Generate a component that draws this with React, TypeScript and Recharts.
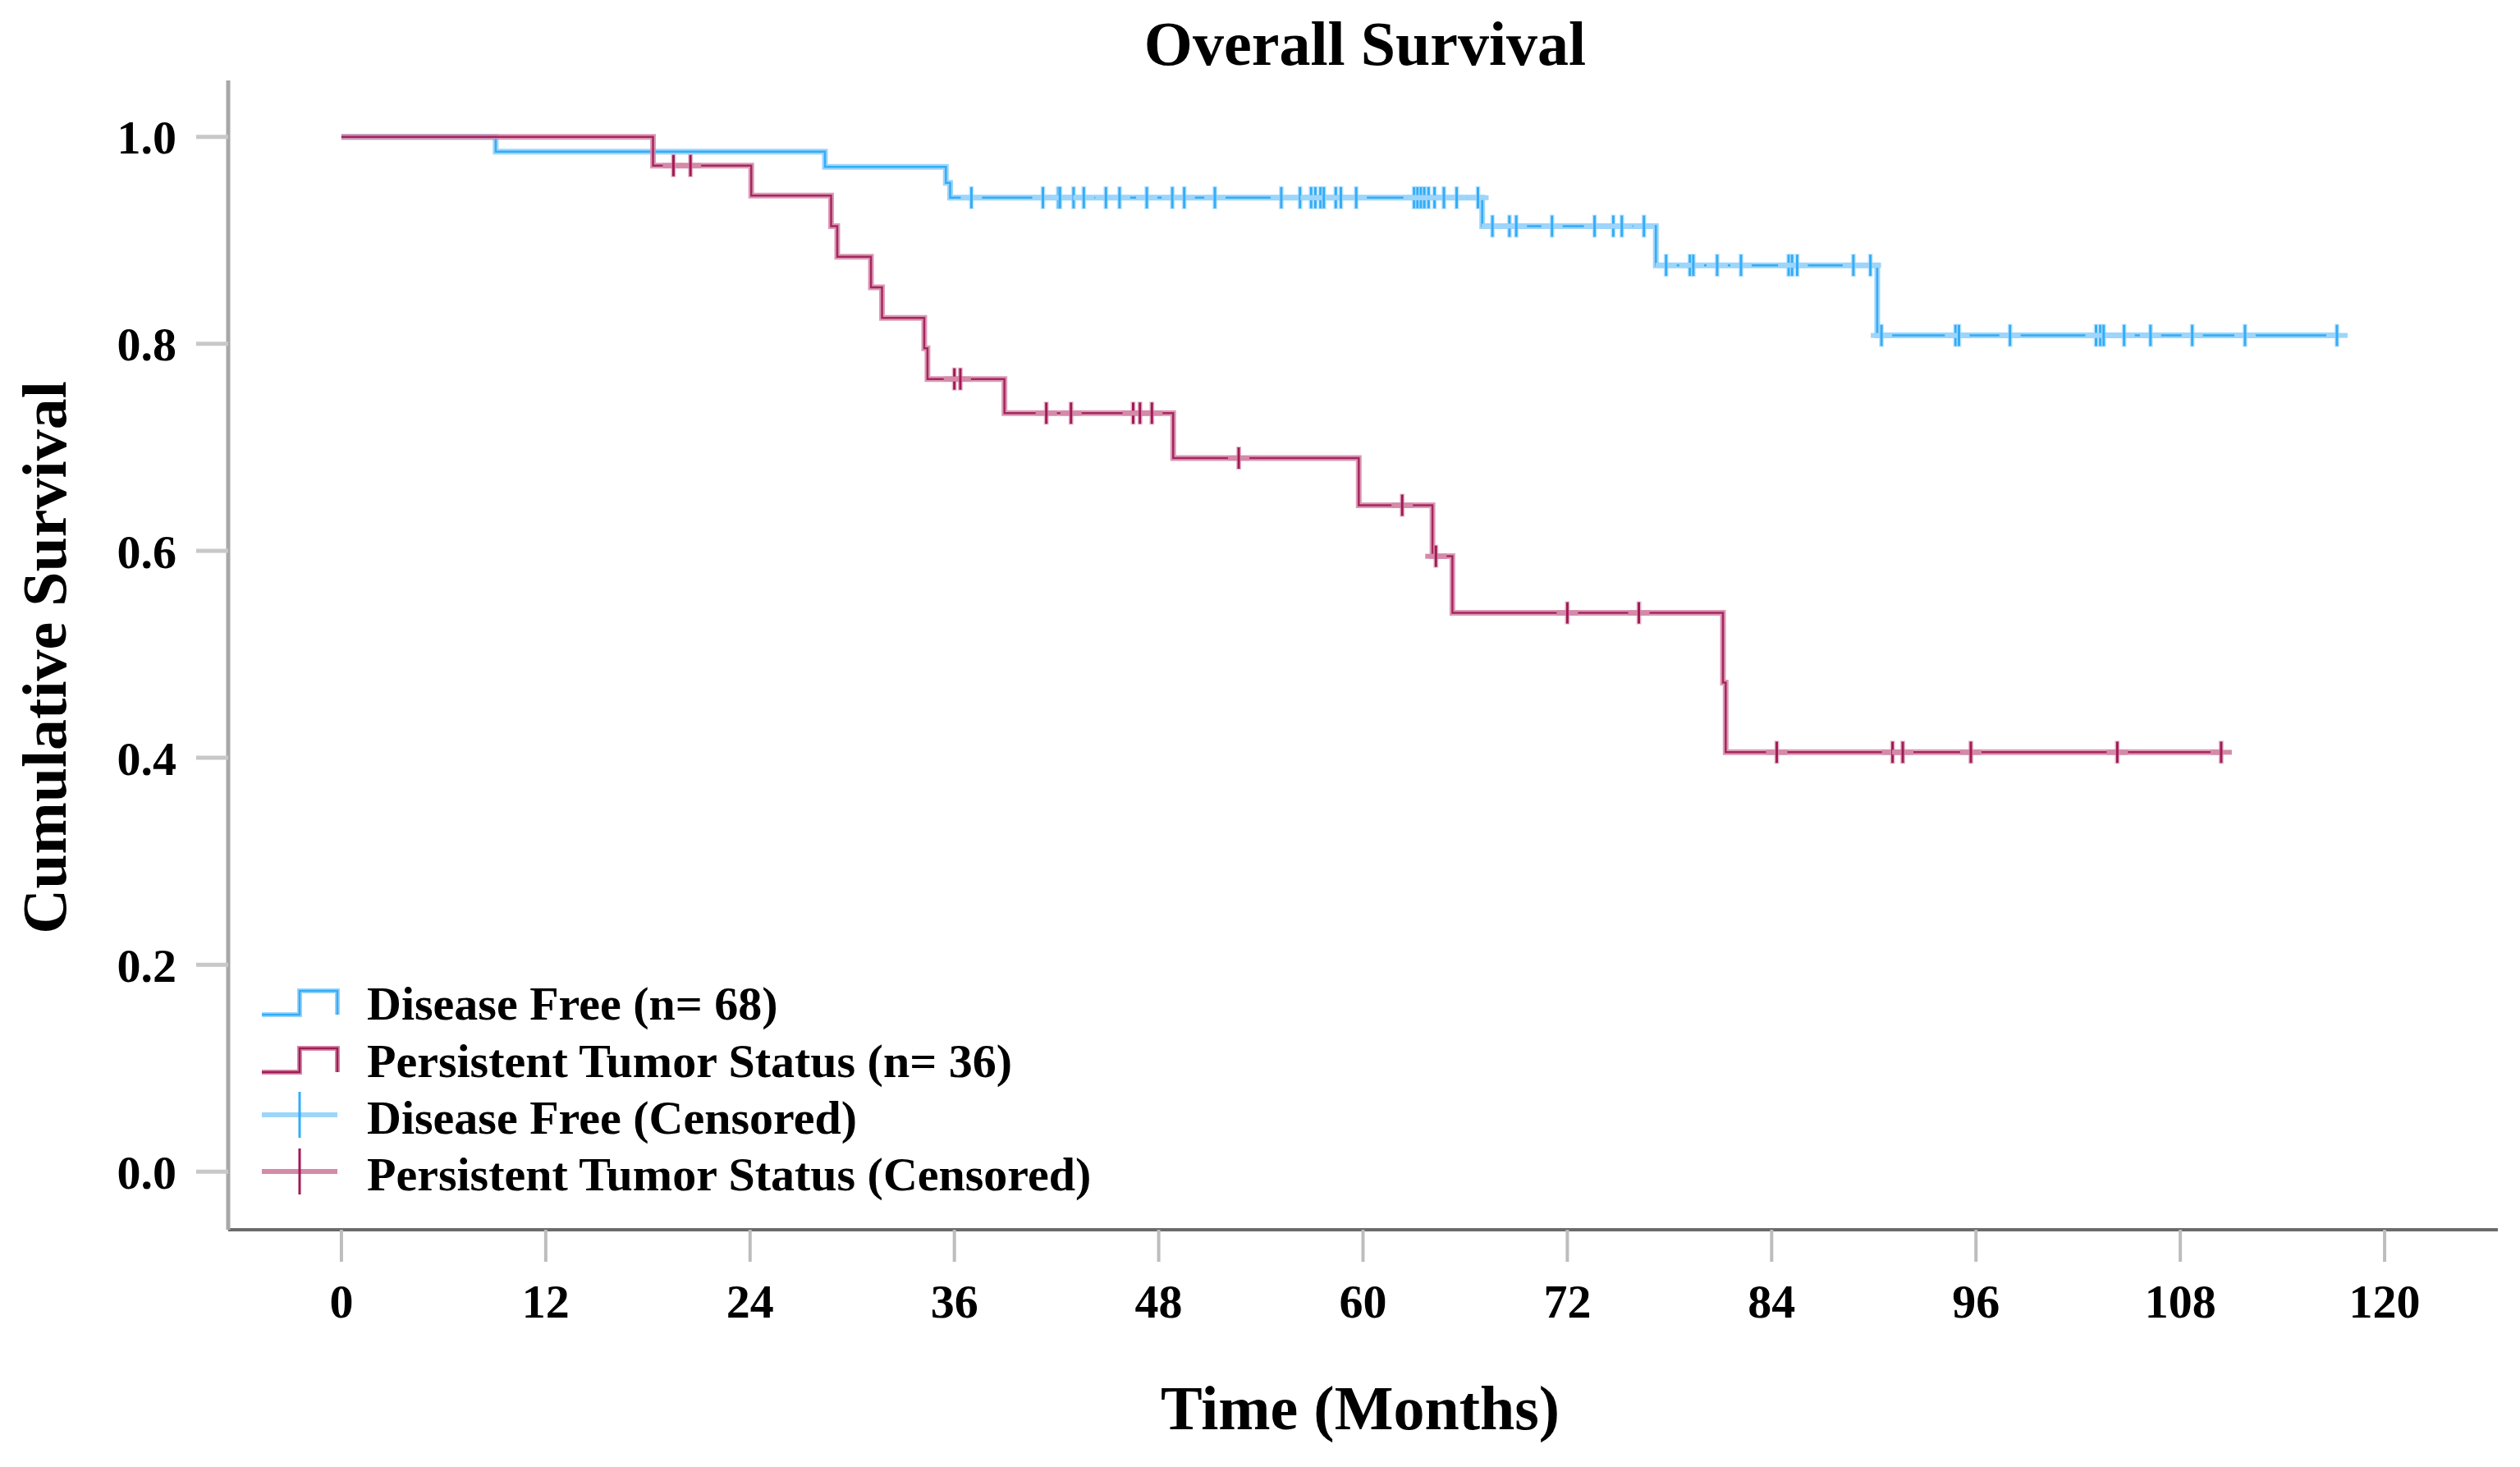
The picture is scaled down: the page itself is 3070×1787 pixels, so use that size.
import React from "react";
import { ComposedChart, Line, Scatter, XAxis, YAxis } from "recharts";

const FONT = '"Liberation Serif", "Times New Roman", serif';

const monthTicks = [0, 12, 24, 36, 48, 60, 72, 84, 96, 108, 120];
const survTicks = [0, 0.2, 0.4, 0.6, 0.8, 1.0];

// Disease Free (n = 68)
const dfEventTimes = [9.06, 28.4, 35.5, 35.75, 67.0, 77.2, 90.2];
const dfSurvival = [0.9856, 0.971, 0.9555, 0.9412, 0.9137, 0.8759, 0.8081];
const dfCensored = [
  37.0, 41.2, 42.1, 42.2, 43.0, 43.6, 44.9, 45.7, 47.3, 48.8, 49.5, 51.3, 55.2, 56.3, 56.95, 57.2,
  57.5, 57.7, 58.4, 58.7, 59.6, 63.0, 63.2, 63.4, 63.6, 63.85, 64.2, 64.75, 65.5, 66.75, 67.6, 68.6,
  69.0, 71.1, 73.6, 74.7, 75.2, 76.5, 77.8, 79.2, 79.4, 80.8, 82.2, 85.0, 85.2, 85.5, 88.8, 89.8,
  90.45, 94.8, 95.0, 98.0, 103.05, 103.3, 103.5, 104.7, 106.25, 108.7, 111.8, 117.2,
];
const dfLastFollowUp = 117.2;

// Persistent Tumor Status (n = 36)
const ptEventTimes = [
  18.3, 24.07, 28.76, 29.12, 31.1, 31.75, 34.23, 34.42, 38.94, 48.85, 59.75, 64.08, 65.25, 81.14,
  81.3,
];
const ptSurvival = [
  0.9722, 0.9433, 0.9136, 0.8842, 0.8546, 0.825, 0.7957, 0.766, 0.733, 0.6896, 0.644, 0.5947, 0.54,
  0.4727, 0.4053,
];
const ptCensored = [
  19.5, 20.5, 36.0, 36.35, 41.4, 42.85, 46.5, 46.9, 47.6, 52.7, 62.3, 64.28, 72.0, 76.2, 84.3, 91.1,
  91.7, 95.7, 104.3, 110.4,
];
const ptLastFollowUp = 110.4;

const BLUE = "#33acf8";
const BLUE_HALO = "#9dd5fb";
const RED = "#a11a55";
const RED_HALO = "#d48aa8";

type Pt = { t: number; s: number };

function kmSteps(times: number[], surv: number[], end: number): Pt[] {
  const pts: Pt[] = [{ t: 0, s: 1 }];
  times.forEach((t, i) => pts.push({ t, s: surv[i] }));
  pts.push({ t: end, s: surv[surv.length - 1] });
  return pts;
}

// place each censor mark on the curve level at that time
function onCurve(times: number[], surv: number[], marks: number[]): Pt[] {
  return marks.map((t) => {
    let s = 1;
    times.forEach((e, i) => {
      if (e <= t) s = surv[i];
    });
    return { t, s };
  });
}

const dfCurve = kmSteps(dfEventTimes, dfSurvival, dfLastFollowUp);
const ptCurve = kmSteps(ptEventTimes, ptSurvival, ptLastFollowUp);
const dfMarks = onCurve(dfEventTimes, dfSurvival, dfCensored);
const ptMarks = onCurve(ptEventTimes, ptSurvival, ptCensored);

function cross(color: string, halo: string) {
  return (p: any) => {
    const { cx, cy } = p;
    if (cx == null || cy == null) return <g />;
    return (
      <g>
        <line x1={cx - 13} x2={cx + 13} y1={cy} y2={cy} stroke={halo} strokeWidth={6} />
        <line x1={cx} x2={cx} y1={cy - 14} y2={cy + 14} stroke={halo} strokeWidth={6} strokeOpacity={0.6} />
        <line x1={cx} x2={cx} y1={cy - 13} y2={cy + 13} stroke={color} strokeWidth={3} />
      </g>
    );
  };
}

const textStyle = { fontFamily: FONT, fontWeight: 700, fill: "#000" } as const;

function LegendOverlay() {
  const rows = [
    { base: 1242, kind: "step", color: BLUE, halo: BLUE_HALO, label: "Disease Free (n= 68)" },
    { base: 1312, kind: "step", color: RED, halo: RED_HALO, label: "Persistent Tumor Status (n= 36)" },
    { base: 1381, kind: "cross", color: BLUE, halo: BLUE_HALO, label: "Disease Free (Censored)" },
    { base: 1450, kind: "cross", color: RED, halo: RED_HALO, label: "Persistent Tumor Status (Censored)" },
  ];
  return (
    <>
      {rows.map((r) => (
        <g key={r.label}>
          {r.kind === "step" ? (
            <g fill="none">
              <path
                d={`M319,${r.base - 6} H365 V${r.base - 35} H411 V${r.base - 6}`}
                stroke={r.halo}
                strokeWidth={6}
              />
              <path
                d={`M319,${r.base - 6} H365 V${r.base - 35} H411 V${r.base - 6}`}
                stroke={r.color}
                strokeWidth={2.5}
              />
            </g>
          ) : (
            <g>
              <line x1={319} x2={411} y1={r.base - 23} y2={r.base - 23} stroke={r.halo} strokeWidth={6} />
              <line x1={365} x2={365} y1={r.base - 51} y2={r.base + 5} stroke={r.color} strokeWidth={3} />
            </g>
          )}
          <text x={447} y={r.base} fontSize={58} style={textStyle}>
            {r.label}
          </text>
        </g>
      ))}
    </>
  );
}

export default function App() {
  const tick = { fontSize: 58, fontFamily: FONT, fontWeight: 700, fill: "#000" };
  return (
    <div style={{ position: "absolute", left: 0, top: 0, width: 3070, height: 1787, background: "#fff" }}>
      <ComposedChart width={3070} height={1787} margin={{ top: 98, right: 27, bottom: 0, left: 0 }}>
        <XAxis
          type="number"
          dataKey="t"
          domain={[-6.65, 126.65]}
          ticks={monthTicks}
          allowDataOverflow
          height={289}
          tick={tick}
          tickSize={39}
          tickMargin={27}
          tickLine={{ stroke: "#bdbdbd", strokeWidth: 4 }}
          axisLine={{ stroke: "#6b6b6b", strokeWidth: 4 }}
        />
        <YAxis
          type="number"
          dataKey="s"
          domain={[-0.0561, 1.0545]}
          ticks={survTicks}
          allowDataOverflow
          width={278}
          tick={tick}
          tickSize={39}
          tickMargin={24}
          tickFormatter={(v: number) => v.toFixed(1)}
          tickLine={{ stroke: "#c8c8c8", strokeWidth: 5 }}
          axisLine={{ stroke: "#a8a8a8", strokeWidth: 5 }}
        />
        <Line data={dfCurve} dataKey="s" type="stepAfter" stroke={BLUE_HALO} strokeWidth={7} dot={false} activeDot={false} isAnimationActive={false} />
        <Line data={dfCurve} dataKey="s" type="stepAfter" stroke={BLUE} strokeWidth={2.5} dot={false} activeDot={false} isAnimationActive={false} />
        <Line data={ptCurve} dataKey="s" type="stepAfter" stroke={RED_HALO} strokeWidth={7} strokeOpacity={0.85} dot={false} activeDot={false} isAnimationActive={false} />
        <Line data={ptCurve} dataKey="s" type="stepAfter" stroke={RED} strokeWidth={2.5} strokeOpacity={0.9} dot={false} activeDot={false} isAnimationActive={false} />
        <Scatter data={dfMarks} dataKey="s" shape={cross(BLUE, BLUE_HALO)} isAnimationActive={false} />
        <Scatter data={ptMarks} dataKey="s" shape={cross(RED, RED_HALO)} isAnimationActive={false} />
      </ComposedChart>
      <svg
        width={3070}
        height={1787}
        style={{ position: "absolute", left: 0, top: 0, pointerEvents: "none" }}
      >
        <text x={1663} y={79} fontSize={76} textAnchor="middle" style={textStyle}>
          Overall Survival
        </text>
        <text
          x={80}
          y={801}
          fontSize={76}
          textAnchor="middle"
          transform="rotate(-90 80 801)"
          style={textStyle}
        >
          Cumulative Survival
        </text>
        <text x={1657} y={1741} fontSize={76} textAnchor="middle" style={textStyle}>
          Time (Months)
        </text>
        <LegendOverlay />
      </svg>
    </div>
  );
}
